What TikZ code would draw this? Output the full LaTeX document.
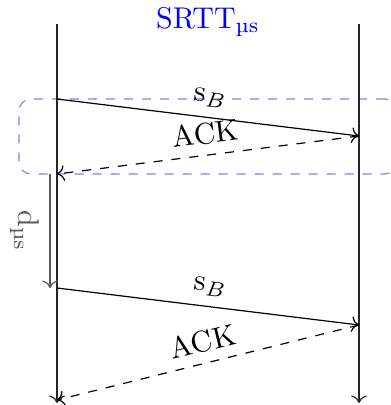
\documentclass[tikz,border=0pt]{standalone}
\usepackage{tikz}
\usepackage{xcolor}
\usetikzlibrary{arrows.meta, positioning, fit, backgrounds, calc}

\begin{document}
\begin{tikzpicture}[
    x=0.3333pt, y=-0.3333pt,
    lifeline/.style={->, black!85},
    msg/.style={->, black},
    ack/.style={->, dashed, black},
    lbl/.style={midway, above, sloped},
    gap/.style={->, black!65},
    rttbox/.style={draw=blue!50, dashed, rounded corners=4pt,
                   inner xsep=12.67pt, inner ysep=0pt}
]

\useasboundingbox (0,0) rectangle (391,405);

% Lifelines
\coordinate (ctop) at (57,24);
\coordinate (cbot) at (57,403);
\coordinate (stop) at (359,24);
\coordinate (sbot) at (359,403);
\draw[lifeline] (ctop) -- (cbot);
\draw[lifeline] (stop) -- (sbot);

% Title
\node[text=blue] (title) at (208,22) {SRTT\textsubscript{µs}};

% Message points
\coordinate (send1) at (57,99);
\coordinate (recv1) at (359,136);
\coordinate (back1) at (57,174);
\coordinate (send2) at (57,288);
\coordinate (recv2) at (359,325);
\coordinate (back2) at (57,400);

% First exchange
\draw[msg] (send1) -- (recv1) node[lbl] (seg1) {s$_B$};
\draw[ack] (recv1) -- (back1) node[lbl] (ack1) {ACK};

% Second exchange
\draw[msg] (send2) -- (recv2) node[lbl] (seg2) {s$_B$};
\draw[ack] (recv2) -- (back2) node[lbl] (ack2) {ACK};

% Delay between sends
\coordinate (dtop) at (50,174);
\coordinate (dbot) at (50,288);
\draw[gap] (dtop) -- (dbot)
    node[midway, rotate=-90, anchor=north] (dlbl) {d\textsubscript{µs}};

% Round trip box
\begin{scope}[on background layer]
    \node[rttbox, fit=(send1)(recv1)(back1)] (rtt) {};
\end{scope}

\end{tikzpicture}
\end{document}
